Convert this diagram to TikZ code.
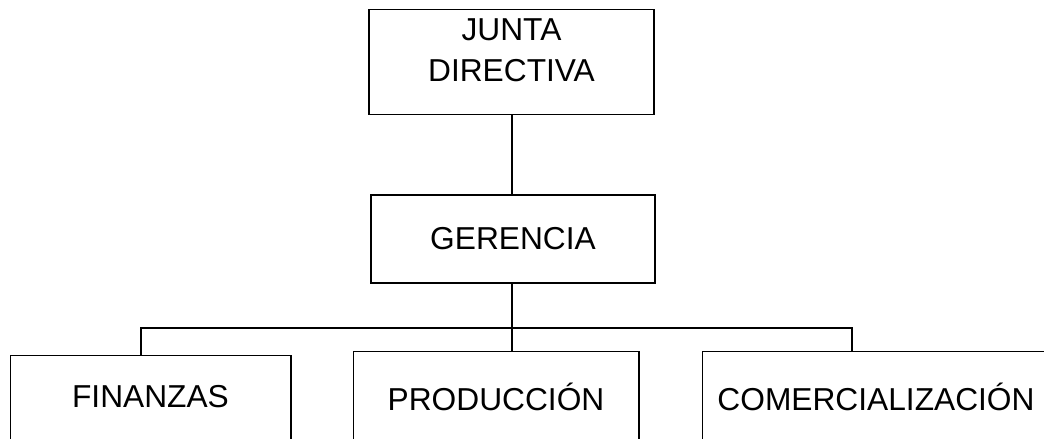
\documentclass[tikz,border=0pt]{standalone}
\usepackage{fontspec}
\setmainfont{Liberation Sans}
\begin{document}
\begin{tikzpicture}[x=1pt,y=-1pt,
  line width=1.5pt,
  box/.style={draw, line width=1.5pt, inner sep=0pt},
  lbl/.style={inner sep=0pt, align=center, font=\fontsize{31.7}{41}\selectfont},
  openbox/.style={inner sep=0pt, font=\fontsize{31.7}{41}\selectfont}]
\useasboundingbox (0,0) rectangle (1044,439);
\clip (0,0) rectangle (1044,439);
% Top box
\node[box, minimum width=285pt, minimum height=105pt] (junta) at (511.5,62) {};
\node[lbl] (jt) at (511.5,50) {JUNTA\\DIRECTIVA};
% Gerencia
\node[box, minimum width=284pt, minimum height=88pt, lbl] (ger) at (513,239) {GERENCIA};
% Bottom boxes (open at bottom, cut by the page edge)
\node[openbox, minimum width=279pt, minimum height=82pt] (fin) at (150.5,397) {FINANZAS};
\node[openbox, minimum width=284pt, minimum height=90pt] (prod) at (496,397) {PRODUCCIÓN};
\node[openbox, minimum width=346pt, minimum height=90pt] (com) at (876,397) {COMERCIALIZACIÓN};
\foreach \n in {fin,prod,com}{
  \draw ([yshift=-20pt]\n.south west) -- (\n.north west) -- (\n.north east) -- ([yshift=-20pt]\n.south east);
}
% Bus
\coordinate (bus) at (512,328);
\draw (junta.south -| bus) -- (ger.north -| bus);
\draw (ger.south -| bus) -- (prod.north -| bus);
\draw (fin.north -| 141,0) -- (141,328) -- (852,328) -- (com.north -| 852,0);
\end{tikzpicture}
\end{document}
